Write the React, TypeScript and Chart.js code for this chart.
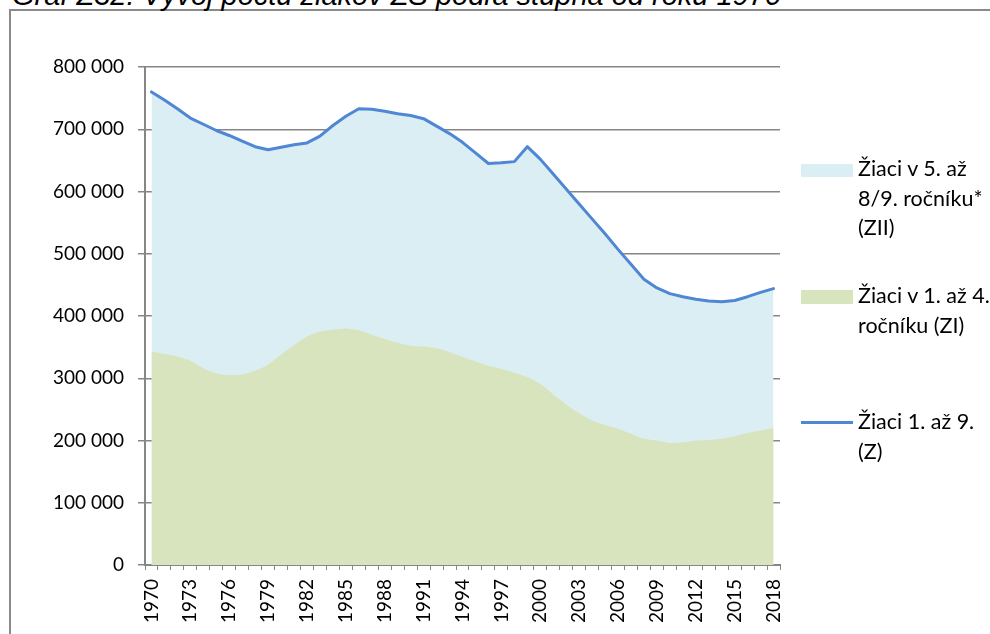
import React, { useEffect, useRef } from "react";
import { Chart, registerables } from "chart.js";

Chart.register(...registerables);

const years: string[] = [
  "1970", "1971", "1972", "1973", "1974", "1975", "1976", "1977", "1978", "1979",
  "1980", "1981", "1982", "1983", "1984", "1985", "1986", "1987", "1988", "1989",
  "1990", "1991", "1992", "1993", "1994", "1995", "1996", "1997", "1998", "1999",
  "2000", "2001", "2002", "2003", "2004", "2005", "2006", "2007", "2008", "2009",
  "2010", "2011", "2012", "2013", "2014", "2015", "2016", "2017", "2018",
];

// Žiaci 1. až 9. (Z) – total
const totalZ: number[] = [
  760000, 747000, 733000, 718000, 708000, 698000, 690000, 681000, 672000, 667000,
  671000, 675000, 678000, 689000, 706000, 721000, 733000, 732000, 729000, 725000,
  722000, 717000, 705000, 693000, 679000, 662000, 645000, 646000, 648000, 672000,
  652000, 628000, 604000, 580000, 556000, 532000, 507000, 483000, 459000, 445000,
  436000, 431000, 427000, 424000, 423000, 425000, 431000, 438000, 444000,
];

// Žiaci v 1. až 4. ročníku (ZI)
const firstStage: number[] = [
  343000, 339000, 335000, 328000, 316000, 308000, 305000, 306000, 312000, 322000,
  338000, 353000, 367000, 375000, 378000, 380000, 377000, 370000, 363000, 357000,
  352000, 351000, 348000, 342000, 334000, 327000, 320000, 315000, 309000, 302000,
  291000, 274000, 258000, 244000, 232000, 225000, 219000, 211000, 203000, 200000,
  196000, 197000, 200000, 201000, 203000, 207000, 212000, 216000, 220000,
];

const yTicks: number[] = [0, 100000, 200000, 300000, 400000, 500000, 600000, 700000, 800000];

const legendZII: string[] = ["Žiaci v 5. až", "8/9. ročníku*", "(ZII)"];
const legendZI: string[] = ["Žiaci v 1. až 4.", "ročníku (ZI)"];
const legendZ: string[] = ["Žiaci 1. až 9.", "(Z)"];

const titleText = "Graf Z32: Vývoj počtu žiakov ZŠ podľa stupňa od roku 1970";

const BLUE_AREA = "#DBEEF4";
const GREEN_AREA = "#D7E4BD";
const LINE_BLUE = "#4F87D4";
const GRID = "#868686";
const FONT = "Lato, 'Open Sans', sans-serif";

const fmt = (v: number) => String(v).replace(/\B(?=(\d{3})+(?!\d))/g, " ");

export default function App() {
  const canvasRef = useRef<HTMLCanvasElement | null>(null);

  useEffect(() => {
    const canvas = canvasRef.current;
    if (!canvas) return;
    const chart = new Chart(canvas, {
      type: "line",
      data: {
        labels: years,
        datasets: [
          {
            label: legendZII.join(" "),
            data: totalZ,
            fill: "origin",
            backgroundColor: BLUE_AREA,
            borderWidth: 0,
            borderColor: "rgba(0,0,0,0)",
            pointRadius: 0,
            tension: 0,
            order: 2,
          },
          {
            label: legendZI.join(" "),
            data: firstStage,
            fill: "origin",
            backgroundColor: GREEN_AREA,
            borderWidth: 0,
            borderColor: "rgba(0,0,0,0)",
            pointRadius: 0,
            tension: 0.3,
            order: 1,
          },
          {
            label: legendZ.join(" "),
            data: totalZ,
            fill: false,
            borderColor: LINE_BLUE,
            borderWidth: 3,
            borderJoinStyle: "round",
            borderCapStyle: "round",
            pointRadius: 0,
            tension: 0,
            order: 0,
          },
        ],
      },
      options: {
        responsive: false,
        animation: false,
        devicePixelRatio: 1,
        layout: { padding: { top: 67, right: 210, left: 0, bottom: 0 } },
        plugins: {
          legend: { display: false },
          title: { display: false },
          tooltip: { enabled: false },
        },
        scales: {
          x: {
            type: "category",
            offset: true,
            afterFit: (s: any) => {
              s.height = 69;
            },
            grid: {
              offset: true,
              drawOnChartArea: false,
              drawTicks: true,
              tickLength: 5,
              color: GRID,
              lineWidth: 1,
            },
            border: { color: GRID, width: 2 },
            ticks: {
              autoSkip: false,
              maxRotation: 90,
              minRotation: 90,
              padding: 9,
              color: "#000",
              font: { family: FONT, size: 19 },
              callback: (_v: any, i: number) => (i % 3 === 0 ? years[i] : ""),
            },
          },
          y: {
            min: 0,
            max: 800000,
            afterFit: (s: any) => {
              s.width = 145;
            },
            afterBuildTicks: (s: any) => {
              s.ticks = yTicks.map((v) => ({ value: v }));
            },
            grid: {
              color: GRID,
              lineWidth: 1.5,
              drawTicks: true,
              tickLength: 7,
            },
            border: { color: GRID, width: 2 },
            ticks: {
              padding: 14,
              color: "#000",
              font: { family: FONT, size: 19 },
              callback: (v: any) => fmt(Number(v)),
            },
          },
        },
      },
    });
    return () => chart.destroy();
  }, []);

  const legendText: React.CSSProperties = {
    position: "absolute",
    left: 858,
    fontFamily: FONT,
    fontSize: 21.5,
    lineHeight: "29.5px",
    color: "#000",
    whiteSpace: "nowrap",
  };

  return (
    <div
      style={{
        position: "fixed",
        left: 0,
        top: 0,
        width: 990,
        height: 634,
        overflow: "hidden",
        background: "#fff",
      }}
    >
      <div
        style={{
          position: "absolute",
          left: 9,
          top: 9,
          width: 2000,
          height: 2000,
          borderLeft: "2px solid #8a8a8a",
          borderTop: "2px solid #8a8a8a",
        }}
      />
      <div
        style={{
          position: "absolute",
          left: 12,
          top: -20,
          fontFamily: "'Liberation Sans', Arial, sans-serif",
          fontStyle: "italic",
          fontSize: 29,
          lineHeight: "30px",
          whiteSpace: "nowrap",
          color: "#000",
        }}
      >
        {titleText}
      </div>
      <canvas
        ref={canvasRef}
        width={990}
        height={634}
        style={{ position: "absolute", left: 0, top: 0, width: 990, height: 634 }}
      />
      <div style={{ position: "absolute", left: 801, top: 164, width: 52, height: 13, background: BLUE_AREA }} />
      <div style={{ ...legendText, top: 154 }}>
        {legendZII.map((t) => (
          <div key={t}>{t}</div>
        ))}
      </div>
      <div style={{ position: "absolute", left: 801, top: 290, width: 52, height: 14, background: GREEN_AREA }} />
      <div style={{ ...legendText, top: 281 }}>
        {legendZI.map((t) => (
          <div key={t}>{t}</div>
        ))}
      </div>
      <div style={{ position: "absolute", left: 801, top: 421, width: 52, height: 3, background: LINE_BLUE }} />
      <div style={{ ...legendText, top: 407 }}>
        {legendZ.map((t) => (
          <div key={t}>{t}</div>
        ))}
      </div>
    </div>
  );
}
